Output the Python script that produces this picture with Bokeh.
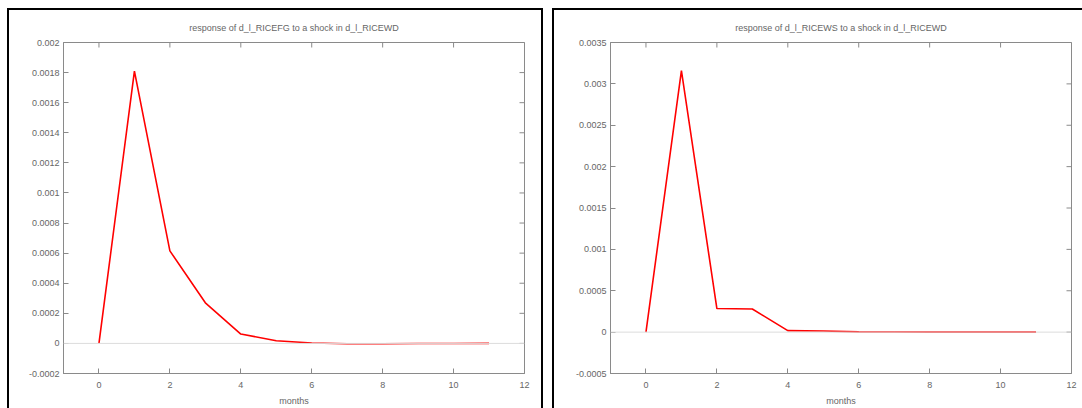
import math

from bokeh.plotting import figure
from bokeh.layouts import row
from bokeh.models import Range1d, FixedTicker, PrintfTickFormatter, Span
from bokeh.embed import file_html
from bokeh.resources import INLINE

# Impulse responses over 12 months
months = [0, 1, 2, 3, 4, 5, 6, 7, 8, 9, 10, 11]
resp_fg = [0.0, 0.00181, 0.000615, 0.00027, 0.000062, 0.000018, 0.000003,
           -0.000002, -0.000002, -0.000001, -0.000001, 0.0]
resp_ws = [0.0, 0.00316, 0.000285, 0.00028, 0.000018, 0.000014, 0.000003,
           0.000001, 0.0, 0.0, 0.0, 0.0]

title_fg = "response of d_l_RICEFG to a shock in d_l_RICEWD"
title_ws = "response of d_l_RICEWS to a shock in d_l_RICEWD"

x_ticks = [0, 2, 4, 6, 8, 10, 12]
y_ticks_fg = [-0.0002, 0.0, 0.0002, 0.0004, 0.0006, 0.0008, 0.001,
              0.0012, 0.0014, 0.0016, 0.0018, 0.002]
y_ticks_ws = [-0.0005, 0.0, 0.0005, 0.001, 0.0015, 0.002, 0.0025, 0.003, 0.0035]

FONT = "Liberation Sans"
TXT = "#666666"
FRAME = "#8a8a8a"


def style_axis(ax):
    ax.axis_line_color = FRAME
    ax.major_tick_line_color = FRAME
    ax.major_tick_in = 5
    ax.major_tick_out = 0
    ax.minor_tick_line_color = None
    ax.major_label_text_font = FONT
    ax.major_label_text_font_size = "9px"
    ax.major_label_text_color = TXT
    ax.axis_label_text_font = FONT
    ax.axis_label_text_font_size = "9px"
    ax.axis_label_text_color = TXT
    ax.axis_label_text_font_style = "normal"


def panel(title, values, y_ticks, width, b_left, b_right, shadow, margin):
    y0, y1 = y_ticks[0], y_ticks[-1]
    x0, x1 = -1, 12
    p = figure(width=width, height=400, title=title,
               x_range=Range1d(x0, x1), y_range=Range1d(y0, y1),
               x_axis_label="months",
               output_backend="svg", toolbar_location=None,
               min_border_left=b_left, min_border_right=b_right,
               min_border_top=34, min_border_bottom=34)
    p.margin = margin
    p.styles = {"box-shadow": shadow}
    p.border_fill_color = None
    p.background_fill_color = "white"
    p.outline_line_color = FRAME
    p.grid.visible = False

    p.title.align = "center"
    p.title.text_font = FONT
    p.title.text_font_size = "9px"
    p.title.text_font_style = "normal"
    p.title.text_color = TXT
    p.title.standoff = 19

    p.xaxis.ticker = FixedTicker(ticks=x_ticks)
    p.yaxis.ticker = FixedTicker(ticks=y_ticks)
    p.yaxis.formatter = PrintfTickFormatter(format="%.6g")
    style_axis(p.xaxis[0])
    style_axis(p.yaxis[0])
    p.xaxis.major_label_standoff = 8
    p.xaxis.axis_label_standoff = 5
    p.yaxis.major_label_standoff = 4

    # mirrored inward ticks on the top and right edges of the frame
    # (half of each dash falls outside the frame and is clipped)
    p.scatter(x_ticks, [y1] * len(x_ticks), marker="dash", size=10,
              angle=math.pi / 2, line_color=FRAME, line_width=1)
    p.scatter([x1] * len(y_ticks), y_ticks, marker="dash", size=10,
              line_color=FRAME, line_width=1)

    p.add_layout(Span(location=0, dimension="width", line_color="#dcdcdc",
                      line_width=1))
    p.line(months, values, line_color="#ff0000", line_width=1.6)
    return p


p1 = panel(title_fg, resp_fg, y_ticks_fg, 536, 56, 19,
           "inset 2px 2px 0 0 #000, inset -2px 0 0 0 #000", (8, 0, 0, 7))
p2 = panel(title_ws, resp_ws, y_ticks_ws, 530, 58, 11,
           "inset 2px 2px 0 0 #000", (8, 0, 0, 9))

layout = row(p1, p2)
open("out.html", "w").write(file_html(layout, INLINE))
